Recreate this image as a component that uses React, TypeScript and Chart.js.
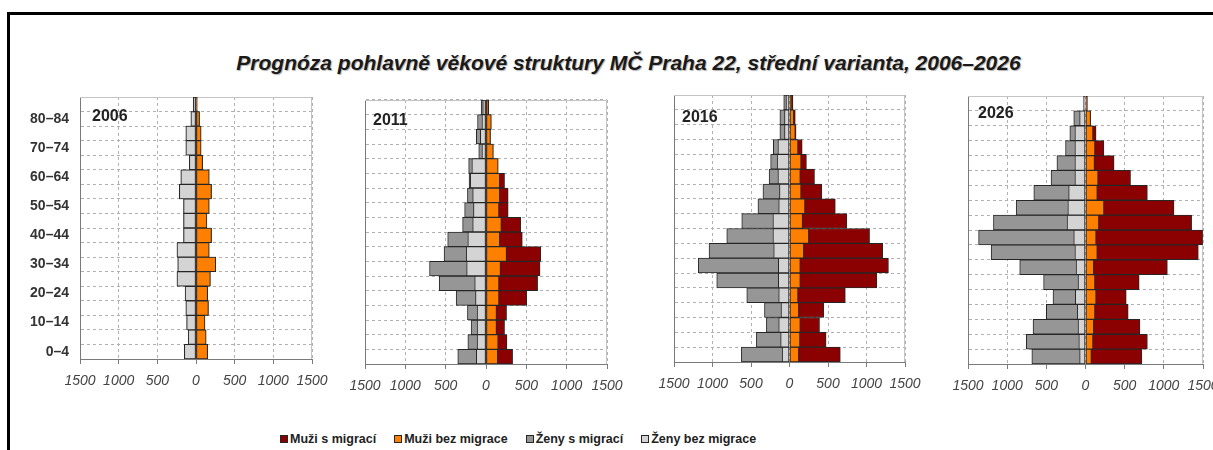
import React, { useEffect, useRef } from 'react';
import { Chart, registerables } from 'chart.js';

Chart.register(...registerables);

const FONT = '"Liberation Sans", Arial, Helvetica, sans-serif';

// ---------- data ----------
const AGE_GROUPS = ['0–4', '5–9', '10–14', '15–19', '20–24', '25–29', '30–34', '35–39', '40–44', '45–49', '50–54', '55–59', '60–64', '65–69', '70–74', '75–79', '80–84', '85+'];
const YEARS = ['2006', '2011', '2016', '2026'];
const SERIES_NAMES = ['Muži s migrací', 'Muži bez migrace', 'Ženy s migrací', 'Ženy bez migrace'];
const X_MIN = -1500;
const X_MAX = 1500;
const X_STEP = 500;

// 2006 (base year: with and without migration identical)
const muziS2006 = [150, 130, 115, 160, 150, 185, 255, 170, 200, 140, 170, 200, 170, 85, 65, 65, 45, 15];
const muziBez2006 = [150, 130, 115, 160, 150, 185, 255, 170, 200, 140, 170, 200, 170, 85, 65, 65, 45, 15];
const zenyS2006 = [150, 100, 120, 130, 140, 245, 235, 245, 160, 160, 160, 215, 195, 85, 130, 130, 65, 35];
const zenyBez2006 = [150, 100, 120, 130, 140, 245, 235, 245, 160, 160, 160, 215, 195, 85, 130, 130, 65, 35];

// 2011
const muziS2011 = [330, 260, 230, 255, 505, 640, 670, 680, 450, 430, 275, 275, 230, 150, 90, 55, 65, 35];
const muziBez2011 = [145, 150, 130, 130, 160, 160, 180, 255, 170, 190, 160, 170, 170, 150, 90, 55, 65, 30];
const zenyS2011 = [350, 225, 185, 230, 370, 580, 700, 520, 475, 290, 265, 230, 210, 215, 90, 120, 105, 60];
const zenyBez2011 = [120, 110, 110, 110, 130, 140, 240, 245, 225, 165, 155, 165, 195, 175, 50, 70, 50, 40];

// 2016
const muziS2016 = [660, 475, 390, 445, 725, 1135, 1285, 1210, 1040, 745, 595, 420, 325, 220, 165, 85, 75, 45];
const muziBez2016 = [120, 135, 140, 120, 110, 140, 140, 185, 250, 170, 200, 150, 140, 150, 110, 75, 55, 30];
const zenyS2016 = [625, 430, 300, 325, 555, 945, 1185, 1045, 815, 620, 410, 345, 265, 245, 210, 125, 125, 75];
const zenyBez2016 = [95, 115, 140, 110, 140, 145, 145, 205, 215, 215, 140, 130, 150, 160, 150, 65, 65, 45];

// 2026
const muziS2026 = [720, 790, 695, 545, 520, 685, 1045, 1440, 1495, 1355, 1130, 790, 575, 365, 235, 135, 65, 25];
const muziBez2026 = [75, 95, 105, 120, 135, 120, 105, 150, 135, 170, 235, 150, 160, 115, 120, 95, 65, 10];
const zenyS2026 = [685, 755, 670, 500, 415, 535, 840, 1205, 1365, 1175, 885, 660, 440, 365, 255, 200, 150, 25];
const zenyBez2026 = [75, 85, 95, 105, 130, 95, 120, 135, 150, 235, 225, 215, 135, 135, 135, 135, 75, 15];

const MUZI_S = [muziS2006, muziS2011, muziS2016, muziS2026];
const MUZI_BEZ = [muziBez2006, muziBez2011, muziBez2016, muziBez2026];
const ZENY_S = [zenyS2006, zenyS2011, zenyS2016, zenyS2026];
const ZENY_BEZ = [zenyBez2006, zenyBez2011, zenyBez2016, zenyBez2026];

// ---------- styles / layout ----------
const SERIES_COLORS = ['#8B0000', '#FF7F00', '#969696', '#D4D4D4'];
const BAR_BORDER = '#262626';
const GRID_COLOR = '#b0b0b0';
const AXIS_COLOR = '#7a7a7a';
const FRAME_COLOR = '#c4c4c4';

// plot rectangles (left, top, right, bottom) and year-label offsets
const PANEL_LAYOUT = [
  { l: 80, t: 97, r: 312, b: 359, yw: 70, dx: 12, dy: 20 },
  { l: 365, t: 100, r: 607, b: 364, yw: 30, dx: 8, dy: 21 },
  { l: 674, t: 95, r: 905, b: 362, yw: 30, dx: 8, dy: 23 },
  { l: 968, t: 96, r: 1203, b: 364, yw: 30, dx: 10, dy: 18 },
];
const PAD_T = 24;
const PAD_R = 30;
const PAD_B = 4;
const X_H = 40;

function Panel({ idx }: { idx: number }) {
  const ref = useRef<HTMLCanvasElement | null>(null);
  const lay = PANEL_LAYOUT[idx];
  const width = lay.yw + (lay.r - lay.l) + PAD_R;
  const height = PAD_T + (lay.b - lay.t) + X_H + PAD_B;

  useEffect(() => {
    if (!ref.current) return;
    const common = {
      grouped: false,
      barPercentage: 1,
      categoryPercentage: 1,
      borderWidth: 1,
      borderColor: BAR_BORDER,
      borderSkipped: false,
    };
    const datasets: any[] = [
      { ...common, label: SERIES_NAMES[0], data: MUZI_S[idx], backgroundColor: SERIES_COLORS[0], order: 2 },
      { ...common, label: SERIES_NAMES[1], data: MUZI_BEZ[idx], backgroundColor: SERIES_COLORS[1], order: 1 },
      { ...common, label: SERIES_NAMES[2], data: ZENY_S[idx].map((v) => -v), backgroundColor: SERIES_COLORS[2], order: 2 },
      { ...common, label: SERIES_NAMES[3], data: ZENY_BEZ[idx].map((v) => -v), backgroundColor: SERIES_COLORS[3], order: 1 },
    ];

    const framePlugin = {
      id: 'frameTopRight',
      beforeDatasetsDraw(chart: any) {
        const { ctx, chartArea } = chart;
        const top = Math.round(chartArea.top) + 0.5;
        const right = Math.round(chartArea.right) - 0.5;
        ctx.save();
        ctx.strokeStyle = FRAME_COLOR;
        ctx.lineWidth = 1;
        ctx.setLineDash([]);
        ctx.beginPath();
        ctx.moveTo(chartArea.left, top);
        ctx.lineTo(right, top);
        ctx.lineTo(right, chartArea.bottom);
        ctx.stroke();
        ctx.restore();
      },
    };
    const yearPlugin = {
      id: 'yearLabel',
      afterDatasetsDraw(chart: any) {
        const { ctx, chartArea } = chart;
        ctx.save();
        ctx.font = `bold 16px ${FONT}`;
        ctx.fillStyle = '#222';
        ctx.textAlign = 'left';
        ctx.textBaseline = 'middle';
        ctx.fillText(YEARS[idx], chartArea.left + lay.dx, chartArea.top + lay.dy);
        ctx.restore();
      },
    };

    const chart = new Chart(ref.current, {
      type: 'bar',
      data: { labels: AGE_GROUPS, datasets },
      options: {
        indexAxis: 'y',
        responsive: false,
        maintainAspectRatio: false,
        animation: false,
        layout: { padding: { left: 0, top: PAD_T, right: PAD_R, bottom: PAD_B } },
        plugins: {
          legend: { display: false },
          tooltip: { enabled: false },
          title: { display: false },
        },
        scales: {
          x: {
            type: 'linear',
            min: X_MIN,
            max: X_MAX,
            ticks: {
              stepSize: X_STEP,
              autoSkip: false,
              maxRotation: 0,
              padding: 9,
              color: '#444',
              font: { family: FONT, size: 14, style: 'italic' },
              callback: (v: any) => String(Math.abs(Number(v))),
            },
            grid: {
              color: GRID_COLOR,
              lineWidth: 1,
              drawTicks: true,
              tickLength: 5,
              tickColor: AXIS_COLOR,
              tickBorderDash: [],
            },
            border: { display: true, color: AXIS_COLOR, width: 1, dash: [3, 3] },
            afterFit: (s: any) => {
              s.height = X_H;
            },
          },
          y: {
            type: 'category',
            reverse: true,
            offset: true,
            ticks: {
              display: idx === 0,
              autoSkip: false,
              padding: 11,
              color: '#333',
              font: { family: FONT, size: 14, weight: 'bold' },
              callback: (v: any) => (Number(v) % 2 === 0 ? AGE_GROUPS[Number(v)] : ''),
            },
            grid: { offset: true, color: GRID_COLOR, lineWidth: 1, drawTicks: false },
            border: { display: true, color: AXIS_COLOR, width: 1, dash: [3, 3] },
            afterFit: (s: any) => {
              s.width = lay.yw;
            },
          },
        },
      } as any,
      plugins: [framePlugin, yearPlugin],
    });
    return () => chart.destroy();
  }, [idx]);

  return (
    <canvas
      ref={ref}
      width={width}
      height={height}
      style={{
        position: 'absolute',
        left: lay.l - lay.yw,
        top: lay.t - PAD_T,
        width,
        height,
      }}
    />
  );
}

function Legend() {
  return (
    <div
      style={{
        position: 'absolute',
        left: 280,
        top: 431,
        height: 16,
        display: 'flex',
        alignItems: 'center',
        whiteSpace: 'nowrap',
        fontFamily: FONT,
        fontWeight: 'bold',
        fontSize: 12.5,
        color: '#222',
      }}
    >
      {SERIES_NAMES.map((name, i) => (
        <div key={name} style={{ display: 'flex', alignItems: 'center', marginRight: 18 }}>
          <span
            style={{
              display: 'inline-block',
              boxSizing: 'border-box',
              width: 8,
              height: 8,
              background: SERIES_COLORS[i],
              border: `1px solid ${BAR_BORDER}`,
              marginRight: 2,
            }}
          />
          <span>{name}</span>
        </div>
      ))}
    </div>
  );
}

export default function App() {
  Chart.defaults.font.family = FONT;
  return (
    <div
      style={{
        position: 'fixed',
        left: 0,
        top: 0,
        width: 1213,
        height: 450,
        overflow: 'hidden',
        background: '#fff',
        fontFamily: FONT,
      }}
    >
      <div
        style={{
          position: 'absolute',
          left: 7,
          top: 12,
          width: 1300,
          height: 500,
          borderTop: '3px solid #000',
          borderLeft: '3px solid #000',
        }}
      />
      <div
        style={{
          position: 'absolute',
          left: 0,
          top: 51,
          width: 1257,
          textAlign: 'center',
          fontFamily: FONT,
          fontStyle: 'italic',
          fontWeight: 'bold',
          fontSize: 21,
          lineHeight: '24px',
          color: '#1a1a1a',
          whiteSpace: 'nowrap',
          textShadow: '1px 1px 1px rgba(0,0,0,0.3)',
        }}
      >
        Prognóza pohlavně věkové struktury MČ Praha 22, střední varianta, 2006–2026
      </div>
      {YEARS.map((y, i) => (
        <Panel key={y} idx={i} />
      ))}
      <Legend />
    </div>
  );
}
